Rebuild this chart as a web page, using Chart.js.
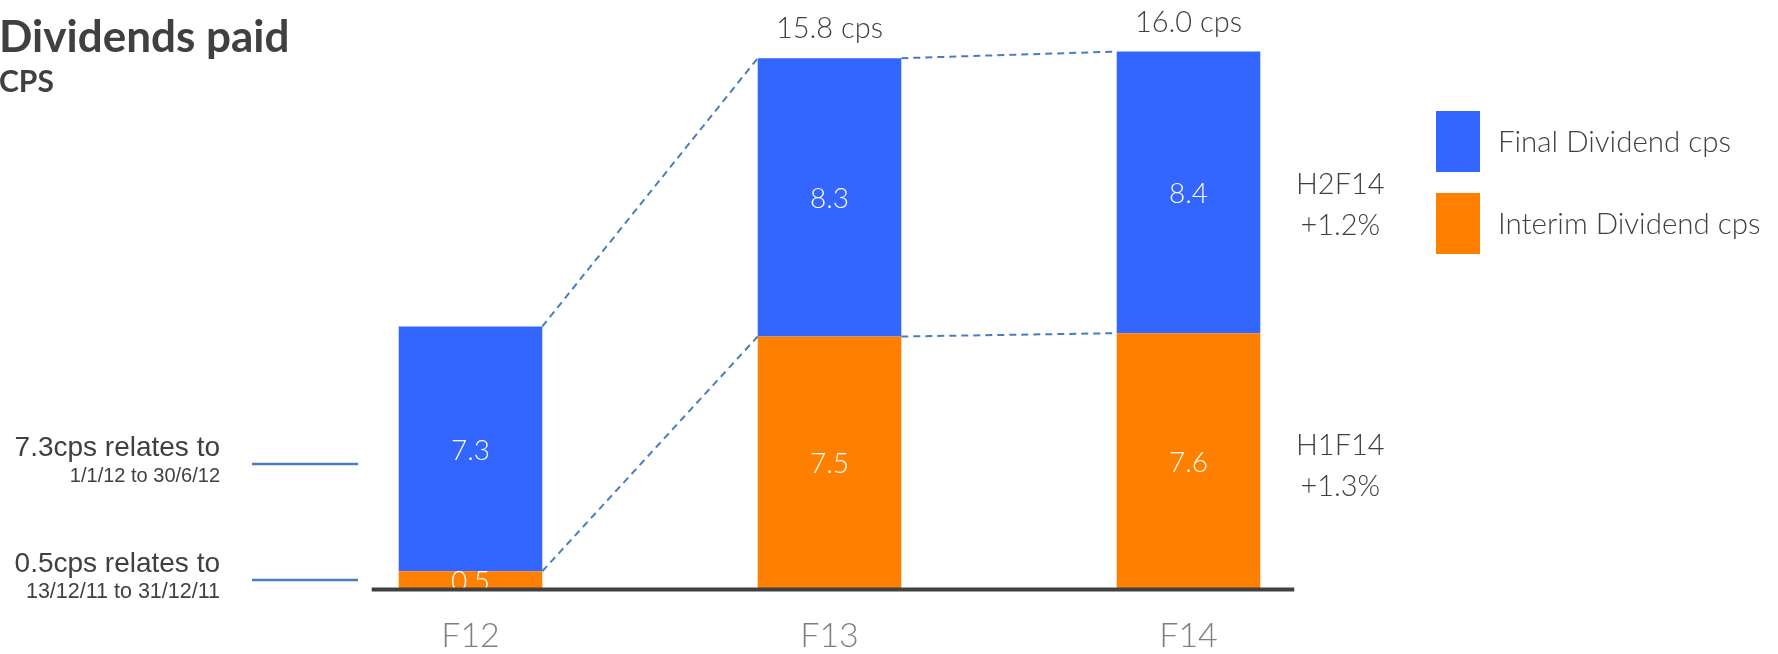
<!DOCTYPE html>
<html>
<head>
<meta charset="utf-8">
<title>Dividends paid</title>
<script src="https://cdn.jsdelivr.net/npm/chart.js@4.4.1/dist/chart.umd.min.js"></script>
<style>
  html, body { margin: 0; padding: 0; background: #fff; }
  #wrap { width: 1778px; height: 654px; position: relative; }
</style>
</head>
<body>
<div id="wrap"><canvas id="chart"></canvas></div>
<script>
// dividend per share, by financial year
const years = ['F12', 'F13', 'F14'];
const interim = [0.5, 7.5, 7.6];
const final = [7.3, 8.3, 8.4];
const showTotal = [false, true, true];

const seriesNames = ['Interim Dividend cps', 'Final Dividend cps'];
const seriesColors = ['#ff8000', '#3366ff'];

// side notes: [first line, second line, y value of the marker line, size of second line]
const leftNotes = [
  ['7.3cps relates to', '1/1/12 to 30/6/12', 3.7, 20],
  ['0.5cps relates to', '13/12/11 to 31/12/11', 0.24, 21.5]
];
// half-year growth beside the F14 segments: [label, change, nudge from segment middle]
const growthNotes = [
  ['H1F14', '+1.3%', 2],
  ['H2F14', '+1.2%', 10]
];

const TEXT = '#404040';
const LINK = '#4a7ebb';
const SANS = 'Lato, "Open Sans", sans-serif';

const extras = {
  id: 'extras',
  afterDatasetsDraw(chart) {
    const ctx = chart.ctx;
    const y = chart.scales.y;
    const lo = chart.getDatasetMeta(0).data;
    const hi = chart.getDatasetMeta(1).data;
    ctx.save();

    // dashed connectors between the stacks
    ctx.strokeStyle = LINK;
    ctx.lineWidth = 2;
    ctx.setLineDash([7, 5]);
    for (let i = 0; i < lo.length - 1; i++) {
      [lo, hi].forEach(bars => {
        const a = bars[i], b = bars[i + 1];
        ctx.beginPath();
        ctx.moveTo(a.x + a.width / 2, a.y);
        ctx.lineTo(b.x - b.width / 2, b.y);
        ctx.stroke();
      });
    }
    ctx.setLineDash([]);

    // values inside the segments
    ctx.fillStyle = '#fff';
    ctx.font = '300 28px ' + SANS;
    ctx.textAlign = 'center';
    ctx.textBaseline = 'middle';
    chart.data.datasets.forEach((ds, i) => {
      chart.getDatasetMeta(i).data.forEach((bar, j) => {
        ctx.fillText(ds.data[j].toFixed(1), bar.x, (bar.y + bar.base) / 2 + 2);
      });
    });

    // stack totals
    ctx.fillStyle = TEXT;
    ctx.font = '300 29px ' + SANS;
    ctx.textBaseline = 'alphabetic';
    hi.forEach((bar, j) => {
      if (!showTotal[j]) return;
      const total = interim[j] + final[j];
      ctx.fillText(total.toFixed(1) + ' cps', bar.x, bar.y - 20);
    });

    // base line
    const first = lo[0], last = lo[lo.length - 1];
    ctx.strokeStyle = TEXT;
    ctx.lineWidth = 4;
    ctx.beginPath();
    ctx.moveTo(first.x - first.width / 2 - 27, y.bottom + 1.5);
    ctx.lineTo(last.x + last.width / 2 + 34, y.bottom + 1.5);
    ctx.stroke();

    // notes on the left of F12
    leftNotes.forEach(([l1, l2, v, s2]) => {
      const py = Math.round(y.getPixelForValue(v));
      ctx.strokeStyle = LINK;
      ctx.lineWidth = 2.5;
      ctx.beginPath();
      ctx.moveTo(252, py);
      ctx.lineTo(358, py);
      ctx.stroke();
      ctx.fillStyle = TEXT;
      ctx.textAlign = 'right';
      ctx.font = '28px "Liberation Sans", Arial, sans-serif';
      ctx.fillText(l1, 220, py - 8);
      ctx.font = s2 + 'px "Liberation Sans", Arial, sans-serif';
      ctx.fillText(l2, 220, py + 18);
    });

    // growth notes beside F14
    ctx.fillStyle = TEXT;
    ctx.textAlign = 'center';
    ctx.font = '300 29px ' + SANS;
    [lo, hi].forEach((bars, i) => {
      const bar = bars[bars.length - 1];
      const [label, change, nudge] = growthNotes[i];
      const cx = bar.x + bar.width / 2 + 80;
      const cy = (bar.y + bar.base) / 2 + nudge;
      ctx.fillText(label, cx, cy - 8);
      ctx.fillText(change, cx, cy + 33);
    });

    // legend, final dividend on top
    ctx.textAlign = 'left';
    ctx.textBaseline = 'middle';
    ctx.font = '300 29.5px ' + SANS;
    const order = chart.data.datasets.map((d, i) => i).reverse();
    order.forEach((i, k) => {
      const ds = chart.data.datasets[i];
      const top = 111 + k * 82;
      ctx.fillStyle = ds.backgroundColor;
      ctx.fillRect(1436, top, 44, 61);
      ctx.fillStyle = TEXT;
      ctx.fillText(ds.label, 1498, top + 31);
    });

    // heading
    ctx.textBaseline = 'alphabetic';
    ctx.font = 'bold 44px ' + SANS;
    ctx.fillText('Dividends paid', -1, 52);
    ctx.font = 'bold 30px ' + SANS;
    ctx.fillText('CPS', -1, 92);

    ctx.restore();
  }
};

new Chart(document.getElementById('chart'), {
  type: 'bar',
  data: {
    labels: years,
    datasets: [
      { label: seriesNames[0], data: interim, backgroundColor: seriesColors[0] },
      { label: seriesNames[1], data: final, backgroundColor: seriesColors[1] }
    ]
  },
  options: {
    responsive: true,
    maintainAspectRatio: false,
    animation: false,
    layout: { padding: { left: 291, right: 410, top: 18, bottom: -30 } },
    datasets: {
      bar: { categoryPercentage: 1, barPercentage: 0.4, borderWidth: 0 }
    },
    plugins: {
      legend: { display: false },
      tooltip: { enabled: false }
    },
    scales: {
      x: {
        stacked: true,
        grid: { display: false, drawTicks: false },
        border: { display: false },
        ticks: {
          color: '#7f7f7f',
          padding: 31,
          font: { family: SANS, size: 34, weight: 300, lineHeight: 1 }
        }
      },
      y: {
        stacked: true,
        display: false,
        min: 0,
        max: 17
      }
    }
  },
  plugins: [extras]
});
</script>
</body>
</html>
